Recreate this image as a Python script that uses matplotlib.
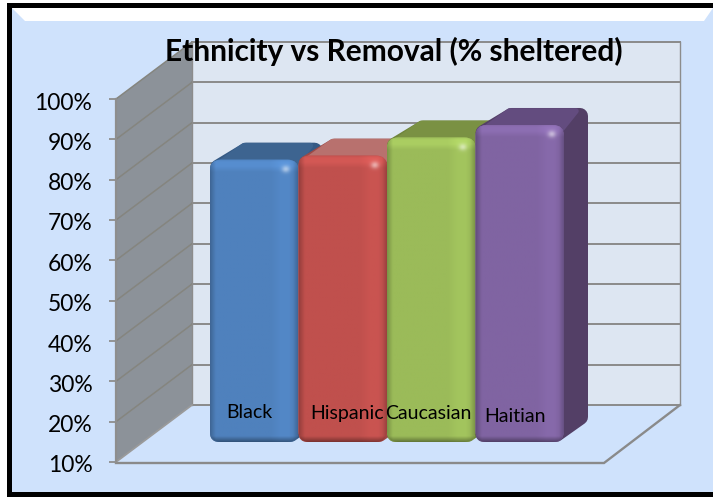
import numpy as np
import matplotlib
matplotlib.use("Agg")
import matplotlib.pyplot as plt
from matplotlib.patches import Polygon, FancyBboxPatch, Rectangle
from matplotlib.transforms import Affine2D
from matplotlib.colors import to_rgb

title = "Ethnicity vs Removal (% sheltered)"
categories = ["Black", "Hispanic", "Caucasian", "Haitian"]
values = [80.0, 81.0, 85.5, 88.6]
yticks = [10, 20, 30, 40, 50, 60, 70, 80, 90, 100]
ytick_labels = ["10%", "20%", "30%", "40%", "50%", "60%", "70%", "80%", "90%", "100%"]
face_colors = ["#4F81BD", "#C0504D", "#9BBB59", "#8064A2"]
top_colors = ["#3D6490", "#B8716E", "#7A9143", "#634C7F"]
side_colors = ["#355A85", "#9C4A47", "#6F853C", "#533F66"]
label_offsets = [(-5, -30), (4, -29), (-2.5, -28.5), (-5, -25)]  # px from bar foot

W, H = 713, 497
plt.rcParams["font.family"] = ["Lato", "DejaVu Sans"]
fig = plt.figure(figsize=(W / 100, H / 100), dpi=100, facecolor="white")
IMG = Affine2D().scale(1, -1).translate(0, H)

ax = fig.add_axes([116 / W, 1 - 462 / H, 488 / W, 363 / H])
ax.set_xlim(0, 1)
ax.set_ylim(10, 100)
ax.set_autoscale_on(False)
ax.patch.set_visible(False)
for s in ("top", "right", "bottom"):
    ax.spines[s].set_visible(False)
ax.spines["left"].set_color("#8E8E8E")
ax.spines["left"].set_linewidth(1.6)
ax.spines["left"].set_zorder(4)
ax.set_xticks([])
ax.set_yticks(yticks, ytick_labels)
ax.tick_params(axis="y", length=5, width=1.3, color="#8E8E8E", labelsize=16.5, pad=12,
               labelcolor="black")
for t in ax.get_yticklabels():
    t.set_verticalalignment("center")
    t.set_transform(t.get_transform() + Affine2D().translate(0, -4))


def D(x, v):
    """data -> image pixel coords"""
    a = ax.transData.transform((x, v))
    return a[0], H - a[1]


def poly(pts, fc, ec="none", lw=0, z=1, **kw):
    p = Polygon(pts, closed=True, fc=fc, ec=ec, lw=lw, transform=IMG, clip_on=False, zorder=z,
                joinstyle="round", **kw)
    ax.add_patch(p)
    return p


def grad(x0, y0, x1, y1, arr, z, clip):
    im = ax.imshow(arr, extent=(x0, x1, y1, y0), origin="upper", aspect="auto",
                   transform=IMG, zorder=z, interpolation="bilinear")
    im.set_clip_path(clip)
    return im


def mix(c1, c2, t):
    t = np.asarray(t)[..., None]
    return np.array(to_rgb(c1)) * (1 - t) + np.array(to_rgb(c2)) * t


def line(xs, ys, color, lw, z=0.8, **kw):
    ax.add_line(plt.Line2D(xs, ys, color=color, lw=lw, transform=IMG, zorder=z, clip_on=False, **kw))


# ---- outer frame and bevel
BG = "#CFE2FC"
ax.add_patch(Rectangle((0, 0), W, H, fc="white", ec="none", transform=IMG, clip_on=False, zorder=-10))
ax.add_patch(Rectangle((7, 3), W - 7, H - 3, fc="black", ec="none", transform=IMG, clip_on=False, zorder=-9))
ax.add_patch(Rectangle((12, 8), W - 12, 484, fc=BG, ec="none", transform=IMG, clip_on=False, zorder=-8))
poly([(12, 8), (W, 8), (704, 21), (25, 21)], "white", z=-6)
tl = np.linspace(0, 1, 14)[None, :]
p = poly([(12, 8), (25, 21), (25, 480), (12, 492)], "none", z=-7)
grad(12, 8, 25, 492, mix("#93A8C4", BG, tl ** 0.6), -6, p)
p = poly([(W, 8), (704, 21), (704, 484), (W, 492)], "none", z=-7)
grad(704, 8, W, 492, mix(BG, "#76869C", tl), -6, p)
p = poly([(12, 492), (25, 482), (704, 482), (W, 492)], "none", z=-7)
grad(12, 482, W, 492, mix(BG, "#8495AB", np.linspace(0, 1, 14)[:, None] ** 1.6), -5, p)

# ---- 3D walls
WALL_DX, WALL_DY = 76, -57
xl, y10 = D(0, 10)
xl, y100 = D(0, 100)
xr, _ = D(1, 10)
poly([(xl, y10), (xl, y100), (xl + WALL_DX, y100 + WALL_DY), (xl + WALL_DX, y10 + WALL_DY)], "#8C9299", z=0.5)
poly([(xl + WALL_DX, y10 + WALL_DY), (xl + WALL_DX, y100 + WALL_DY),
      (xr + WALL_DX, y100 + WALL_DY), (xr + WALL_DX, y10 + WALL_DY)], "#DDE6F2", z=0.5)
for v in yticks:
    _, y = D(0, v)
    line([xl + WALL_DX, xr + WALL_DX], [y + WALL_DY] * 2, "#8A8A8A", 1.4)
    if v > 10:
        line([xl, xl + WALL_DX], [y, y + WALL_DY], "#85857F", 1.1)
line([xl + WALL_DX] * 2, [y10 + WALL_DY, y100 + WALL_DY], "#8C8C8C", 1)
line([xr + WALL_DX] * 2, [y10 + WALL_DY, y100 + WALL_DY], "#8C8C8C", 1)
line([xl, xr, xr + WALL_DX], [y10 + 1, y10 + 1, y10 + WALL_DY], "#8A8A8A", 1.7, z=0.9, solid_joinstyle="miter")
line([xl, xl + WALL_DX], [y10, y10 + WALL_DY], "#9A9A9A", 1.3, z=0.9)

# ---- bars
BAR_W = 88.5 / 488
BAR_X0 = (210 - 26 - 116) / 488
PLANE_DX, PLANE_DY = 26, -20
BDX, BDY = 24, -17
R = 11
for i, (cat, val) in enumerate(zip(categories, values)):
    x0 = BAR_X0 + i * BAR_W
    L, B = D(x0, 10)
    Rt, T = D(x0 + BAR_W, val)
    L += PLANE_DX; Rt += PLANE_DX; B += PLANE_DY; T += PLANE_DY
    z = 2 + i
    r = 8
    # extruded silhouette (side) with round joins
    poly([(L + r, T + r), (L + BDX + r + 4, T + BDY + r), (Rt + BDX - r, T + BDY + r),
          (Rt + BDX - r, B + BDY - r), (Rt - r, B - r), (L + r, B - r)],
         side_colors[i], ec=side_colors[i], lw=r * 2 * 0.72, z=z)
    # top face
    poly([(L + 6, T + 6), (L + BDX + 10, T + BDY + 3), (Rt + BDX - 12, T + BDY + 3), (Rt - 4, T + 6)],
         top_colors[i], ec=top_colors[i], lw=4, z=z + 0.1)
    # front face
    w = int(Rt - L); h = int(B - T)
    face = FancyBboxPatch((L + R, T + R), (Rt - L) - 2 * R, (B - T) - 2 * R,
                          boxstyle=f"round,pad={R},rounding_size={R}", fc=face_colors[i], ec="none",
                          transform=IMG, clip_on=False, zorder=z + 0.2)
    ax.add_patch(face)
    xs = np.arange(w) + 0.5
    ys = np.arange(h) + 0.5
    X, Y = np.meshgrid(xs, ys)
    f = np.ones_like(X)
    f *= 0.78 + 0.22 * np.clip(X / 6, 0, 1)
    f *= 0.76 + 0.24 * np.clip((w - X) / 6, 0, 1)
    f *= 1 + 0.05 * np.clip((X - (w - 28)) / 10, 0, 1) * np.clip((w - 6 - X) / 4, 0, 1)
    f *= 0.62 + 0.38 * np.clip((h - Y) / 6, 0, 1)
    f *= 1 + 0.10 * np.clip((13 - Y) / 6, 0, 1) * np.clip(Y / 3, 0, 1)
    rgb = np.array(to_rgb(face_colors[i]))[None, None, :] * f[..., None]
    spot = 0.5 * np.exp(-(((X - (w - 13)) / 4) ** 2 + ((Y - 10) / 3.5) ** 2))
    rgb = rgb * (1 - spot[..., None]) + spot[..., None]
    grad(L, T, Rt, B, np.clip(rgb, 0, 1), z + 0.3, face)
    cx = (L + Rt) / 2
    ox, oy = label_offsets[i]
    ax.text(cx + ox, H - (B + oy), cat, transform=Affine2D(), ha="center", va="center",
            fontsize=14, color="black", zorder=20, clip_on=False)

ax.set_title(title, x=(394 - 116) / 488, y=1, pad=27, fontsize=21.5, fontweight="bold", color="black")
ax.title.set_zorder(20)
fig.savefig("out.png", dpi=100)
